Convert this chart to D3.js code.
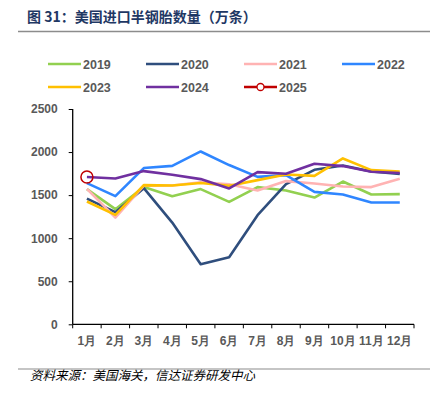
<!DOCTYPE html>
<html><head><meta charset="utf-8">
<script src="https://cdn.jsdelivr.net/npm/d3@7"></script>
<style>
body{margin:0;background:#fff;}
svg{display:block;}
</style></head>
<body>
<script>
const months = ["1月","2月","3月","4月","5月","6月","7月","8月","9月","10月","11月","12月"];
const years = ["2019","2020","2021","2022","2023","2024","2025"];
const colors = ["#92d050","#2f4e7d","#ffb3b3","#2f86ff","#ffc000","#7030a0","#c00000"];
const v2019 = [1570,1337,1593,1488,1570,1422,1593,1554,1472,1658,1507,1511];
const v2020 = [1460,1302,1581,1181,698,779,1267,1628,1794,1844,1774,1745];
const v2021 = [1573,1240,1610,1612,1650,1627,1554,1663,1635,1600,1593,1690];
const v2022 = [1640,1488,1814,1840,2007,1849,1712,1732,1538,1507,1414,1414];
const v2023 = [1426,1271,1616,1612,1640,1608,1674,1740,1724,1926,1790,1774];
const v2024 = [1710,1693,1779,1736,1686,1577,1767,1748,1864,1837,1771,1756];
const v2025 = [1710];
const yTicks = [0,500,1000,1500,2000,2500];
const series = [v2019,v2020,v2021,v2022,v2023,v2024,v2025];

const W=436,H=399;
const svg=d3.select("body").append("svg").attr("width",W).attr("height",H);

// title
svg.append("text").attr("x",27).attr("y",22).attr("fill","#1f3864")
  .attr("font-family","'Noto Sans CJK SC', sans-serif").attr("font-weight","bold").attr("font-size",14)
  .text("图 31：美国进口半钢胎数量（万条）");
svg.append("line").attr("x1",18).attr("x2",430).attr("y1",31.5).attr("y2",31.5).attr("stroke","#8c8c8c").attr("stroke-width",1.5);

// legend
const legPos=[[48,64],[146,64],[244,64],[342,64],[48,87],[146,87],[244,87]];
years.forEach((yr,i)=>{
  const [lx,ly]=legPos[i];
  const g=svg.append("g");
  g.append("line").attr("x1",lx).attr("x2",lx+33).attr("y1",ly).attr("y2",ly).attr("stroke",colors[i]).attr("stroke-width",2.5);
  if(i===6) g.append("circle").attr("cx",lx+16.5).attr("cy",ly).attr("r",3.5).attr("fill","#fff").attr("stroke",colors[i]).attr("stroke-width",1.3);
  g.append("text").attr("x",lx+35).attr("y",ly+4.5).attr("fill","#595959")
   .attr("font-family","'Liberation Sans', Arial, sans-serif").attr("font-weight","bold").attr("font-size",12.5).text(yr);
});

const x=d3.scaleBand().domain(months).range([72.7,414]);
const y=d3.scaleLinear().domain([0,2500]).range([324.3,109]);

const yAxis=svg.append("g").attr("transform","translate(72.7,0)")
  .call(d3.axisLeft(y).tickValues(yTicks).tickFormat(d3.format("d")).tickSize(4).tickPadding(11));
const xAxis=svg.append("g").attr("transform","translate(0,324.3)")
  .call(d3.axisBottom(x).tickSize(0).tickPadding(12));
// x tick marks at band boundaries
const bounds=months.map(m=>x(m)).concat([x.range()[1]]);
xAxis.selectAll(".bt").data(bounds).enter().append("line").attr("class","bt")
  .attr("x1",d=>d).attr("x2",d=>d).attr("y1",0).attr("y2",4).attr("stroke","#000");
[yAxis,xAxis].forEach(a=>{
  a.select(".domain").attr("stroke","#000").attr("stroke-width",1.3);
  a.selectAll(".tick line").attr("stroke","#000");
  a.selectAll("text").attr("fill","#595959").attr("font-family","'Liberation Sans', Arial, sans-serif")
   .attr("font-weight","bold").attr("font-size",12);
});
yAxis.select(".domain").attr("d","M0,"+y(2500)+"V"+y(0));
xAxis.select(".domain").attr("d","M72.7,0H414");

const line=d3.line().x((d,i)=>x(months[i])+x.bandwidth()/2).y(d=>y(d));
series.forEach((s,i)=>{
  svg.append("path").datum(s).attr("d",line).attr("fill","none")
    .attr("stroke",colors[i]).attr("stroke-width",2.6).attr("stroke-linejoin","round");
});
svg.selectAll(".m25").data(v2025).enter().append("circle")
  .attr("cx",(d,i)=>x(months[i])+x.bandwidth()/2).attr("cy",d=>y(d)).attr("r",6)
  .attr("fill","none").attr("stroke",colors[6]).attr("stroke-width",1.5);

// source
svg.append("line").attr("x1",18).attr("x2",430).attr("y1",369).attr("y2",369).attr("stroke","#8c8c8c").attr("stroke-width",1.2);
svg.append("text").attr("x",30).attr("y",380).attr("fill","#000")
  .attr("font-family","'Noto Sans CJK SC', sans-serif").attr("font-style","italic").attr("font-size",12.5)
  .text("资料来源：美国海关，信达证券研发中心");
</script>
</body></html>
